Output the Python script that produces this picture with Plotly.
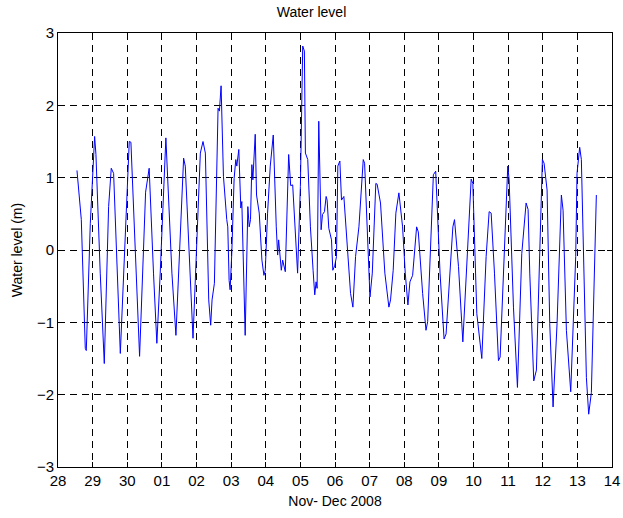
import pandas as pd
import plotly.graph_objects as go

# time in days after 2008-11-28 00:00, water level in metres
days = [0.548, 0.673, 0.788, 0.817, 0.933, 1.058, 1.096, 1.22, 1.337, 1.462,
        1.538, 1.606, 1.80, 1.894, 2.058, 2.106, 2.356, 2.53, 2.633, 2.758,
        2.855, 2.952, 3.116, 3.29, 3.406, 3.628, 3.676, 3.899, 4.111, 4.188,
        4.256, 4.353, 4.41, 4.449, 4.517, 4.623, 4.662, 4.71, 4.778, 4.874,
        4.903, 4.942, 4.971, 5.019, 5.087, 5.135, 5.164, 5.222, 5.280, 5.309,
        5.406, 5.483, 5.522, 5.560, 5.599, 5.628, 5.696, 5.734, 5.812, 5.889,
        5.947, 5.986, 6.053, 6.130, 6.217, 6.304, 6.343, 6.372, 6.449, 6.488,
        6.565, 6.662, 6.720, 6.778, 6.92, 7.0, 7.068, 7.116, 7.145, 7.213,
        7.290, 7.367, 7.415, 7.454, 7.483, 7.531, 7.599, 7.638, 7.696, 7.744,
        7.773, 7.821, 7.899, 7.937, 7.995, 8.043, 8.082, 8.140, 8.188, 8.256,
        8.353, 8.449, 8.517, 8.594, 8.691, 8.816, 8.855, 8.952, 9.010, 9.077,
        9.13, 9.179, 9.217, 9.314, 9.440, 9.556, 9.604, 9.681, 9.758, 9.845,
        9.952, 10.029, 10.106, 10.164, 10.242, 10.357, 10.406, 10.531, 10.628, 10.676,
        10.841, 10.908, 11.034, 11.150, 11.208, 11.31, 11.404, 11.452, 11.567, 11.692,
        11.808, 11.933, 11.981, 12.096, 12.240, 12.365, 12.452, 12.510, 12.606, 12.721,
        12.769, 12.990, 13.029, 13.154, 13.269, 13.394, 13.519, 13.577, 13.625, 13.740,
        13.817, 13.913, 13.990, 14.038, 14.125, 14.202, 14.298, 14.413, 14.538, 14.587,
        14.683, 14.808, 14.952, 14.990, 15.067, 15.115, 15.183, 15.260, 15.327, 15.404,
        15.548]

level = [1.10, 0.42, -1.36, -1.39, 0.37, 1.57, 1.32, -0.32, -1.57, 0.60,
         1.13, 1.06, -1.43, -0.32, 1.50, 1.49, -1.47, 0.80, 1.13, -0.32,
         -1.29, -0.32, 1.55, -0.32, -1.18, 1.27, 1.16, -1.22, 1.34, 1.50,
         1.34, -0.69, -1.04, -0.69, -0.46, 1.96, 1.92, 2.27, 1.02, 0.42,
         0.32, -0.42, -0.55, -0.05, 0.99, 1.25, 1.16, 1.39, 0.58, 0.67,
         -1.18, 0.60, 0.32, 0.42, 1.18, 0.97, 1.60, 0.76, 0.51, -0.14,
         -0.35, -0.28, 0.51, 1.16, 1.59, 0.32, -0.07, 0.14, -0.28, -0.14,
         -0.30, 1.32, 0.89, 0.90, -0.32, 0.88, 2.82, 2.75, 1.34, 1.25,
         0.32, -0.28, -0.62, -0.44, -0.53, 1.78, 0.28, 0.49, 0.53, 0.74,
         0.69, 0.30, 0.14, -0.28, -0.21, -0.09, 1.16, 1.23, 0.69, 0.74,
         0.05, -0.60, -0.79, -0.09, 0.32, 1.25, 1.20, -0.09, -0.65, -0.32,
         0.42, 0.92, 0.91, 0.65, -0.32, -0.79, -0.69, -0.28, 0.51, 0.79,
         0.32, -0.32, -0.76, -0.44, -0.35, 0.32, 0.25, -0.60, -1.11, -0.99,
         1.04, 1.09, -0.32, -1.23, -1.16, -0.42, 0.32, 0.42, -0.23, -1.27,
         -0.23, 0.98, 0.92, -0.88, -1.50, -0.09, 0.53, 0.51, -0.32, -1.53,
         -1.48, 1.16, 0.97, -0.79, -1.90, -0.05, 0.65, 0.56, -0.32, -1.81,
         -1.66, 0.14, 1.25, 1.20, 0.83, -1.02, -2.17, -1.02, 0.76, 0.55,
         -1.11, -1.96, -0.09, 1.06, 1.42, 1.25, -0.32, -1.76, -2.27, -1.97,
         0.76]

start = pd.Timestamp("2008-11-28")
times = start + pd.to_timedelta(days, unit="D")

fig = go.Figure()
fig.add_trace(go.Scatter(x=times, y=level, mode='lines',
                         line=dict(color='rgb(0,0,255)', width=1),
                         showlegend=False))

axis_common = dict(
    showline=True, linecolor='black', linewidth=1, mirror='allticks',
    ticks='inside', ticklen=5, tickcolor='black',
    showgrid=True, gridcolor='black', gridwidth=1, griddash='7px,5px',
    zeroline=False, automargin=False,
    tickfont=dict(size=15, color='black'),
)

fig.update_layout(
    width=623, height=518,
    paper_bgcolor='white', plot_bgcolor='white',
    margin=dict(l=58, r=11, t=33, b=51),
    font=dict(family='Liberation Sans, Arial, sans-serif', color='black'),
    title=dict(text='Water level', font=dict(size=14), x=0.5, xanchor='center',
               y=0.977, yanchor='middle'),
    xaxis=dict(axis_common,
               type='date',
               range=['2008-11-28', '2008-12-14'],
               tick0='2008-11-28', dtick=86400000, tickformat='%d',
               title=dict(text='Nov- Dec 2008', font=dict(size=14), standoff=8)),
    yaxis=dict(axis_common,
               range=[-3, 3], dtick=1,
               title=dict(text='Water level (m)', font=dict(size=14), standoff=10)),
)

# drop the default page margin so the figure sits at the window's corner
fig.write_html("out.html", config={'displayModeBar': False},
               post_script="document.body.style.margin='0';")
